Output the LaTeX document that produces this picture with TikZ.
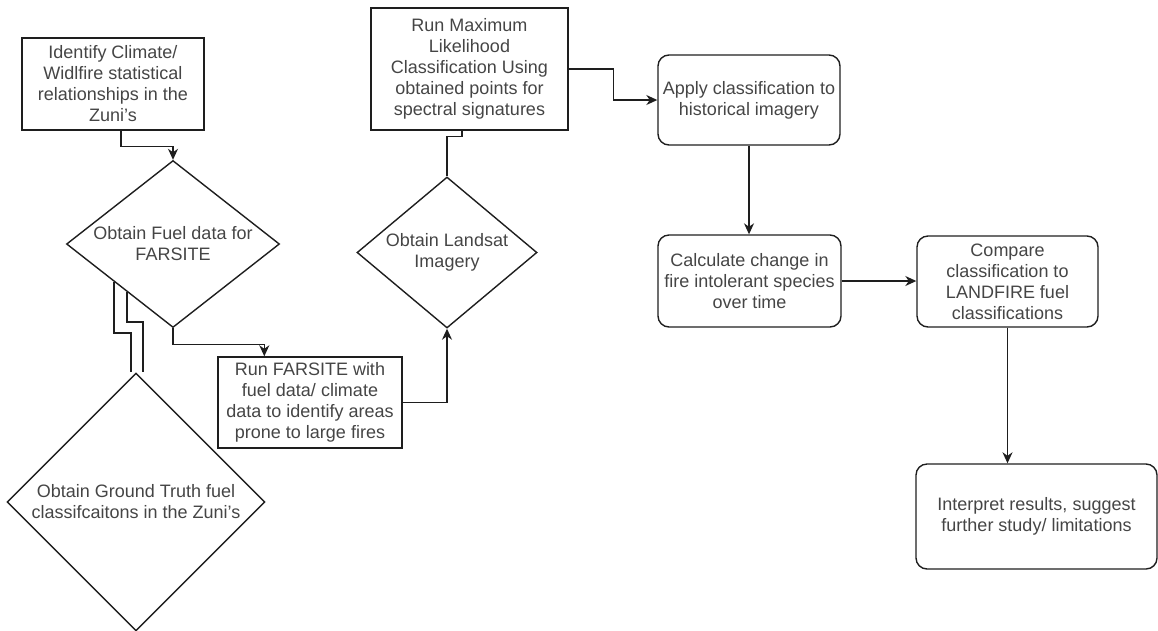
\documentclass[tikz,border=0pt]{standalone}
\usepackage{fontspec}
\setmainfont{Liberation Sans}
\usetikzlibrary{shapes.geometric}
\usetikzlibrary{arrows.meta}
\usetikzlibrary{calc}

\definecolor{linegray}{HTML}{1E1E1E}
\definecolor{textgray}{HTML}{454545}

\begin{document}
\begin{tikzpicture}[
        x=1pt, y=-1pt,
        every node/.style={font=\fontsize{18pt}{21pt}\selectfont, text=textgray, align=center, inner sep=0pt},
        step box/.style={rectangle, draw=linegray, line width=1.4pt},
        round box/.style={rectangle, rounded corners=11pt, draw=linegray, line width=1.4pt},
        choice/.style={diamond, draw=linegray, line width=1.4pt},
        flow/.style={draw=linegray, line width=1.4pt, -{Stealth[length=11pt,width=10pt,inset=3.5pt]}},
        link/.style={draw=linegray, line width=1.4pt},
        ]

    \useasboundingbox (0,0) rectangle (1158,630);

    \node[step box, minimum width=182pt, minimum height=92pt] (climate) at (113,84)
        {Identify Climate/\\Widlfire statistical\\relationships in the\\Zuni's};
    \node[choice, minimum width=213pt, minimum height=167pt,
        label={center:{Obtain Fuel data for\\FARSITE}}] (fuel) at (173,244) {};
    \node[choice, minimum width=258pt, minimum height=258pt,
        label={center:{Obtain Ground Truth fuel\\classifcaitons in the Zuni's}}] (truth) at (136,502) {};
    \node[step box, minimum width=184pt, minimum height=91pt] (farsite) at (310,402.5)
        {Run FARSITE with\\fuel data/ climate\\data to identify areas\\prone to large fires};
    \node[choice, minimum width=180pt, minimum height=151pt,
        label={center:{Obtain Landsat\\Imagery}}] (landsat) at (447,252.5) {};
    \node[step box, minimum width=197pt, minimum height=122pt] (maxlik) at (469.5,69)
        {Run Maximum\\Likelihood\\Classification Using\\obtained points for\\spectral signatures};
    \node[round box, minimum width=182pt, minimum height=90pt] (apply) at (749,100)
        {Apply classification to\\historical imagery};
    \node[round box, minimum width=183pt, minimum height=92pt] (change) at (749.5,281)
        {Calculate change in\\fire intolerant species\\over time};
    \node[round box, minimum width=181pt, minimum height=91pt] (compare) at (1007.5,281.5)
        {Compare\\classification to\\LANDFIRE fuel\\classifications};
    \node[round box, minimum width=241pt, minimum height=105pt] (interp) at (1036.5,516.5)
        {Interpret results, suggest\\further study/ limitations};

    \draw[flow] ($(climate.south)+(8,0)$) -- ++(0,16) -| (fuel.north);
    \draw[flow] (fuel.south) -- ++(0,16) -| ($(farsite.north west)+(47,0)$);
    \draw[link] ($(fuel.south)!.55!(fuel.west)$) -- ++(0,51) -| ($(truth.north)+(-5,0)$);
    \draw[link] ($(fuel.south)!.43!(fuel.west)$) -- ++(0,30) -| ($(truth.north)+(7,0)$);
    \draw[flow] (farsite.east) -| (landsat.south);
    \draw[link] (landsat.north) -- ++(0,-40) -| ($(maxlik.south)+(-7.5,0)$);
    \draw[flow] (maxlik.east) -- ++(45,0) |- (apply.west);
    \draw[flow] (apply.south) -- (apply.south |- change.north);
    \draw[flow] (change.east) -- (change.east -| compare.west);
    \draw[flow] (compare.south) -- (compare.south |- interp.north);
\end{tikzpicture}
\end{document}
